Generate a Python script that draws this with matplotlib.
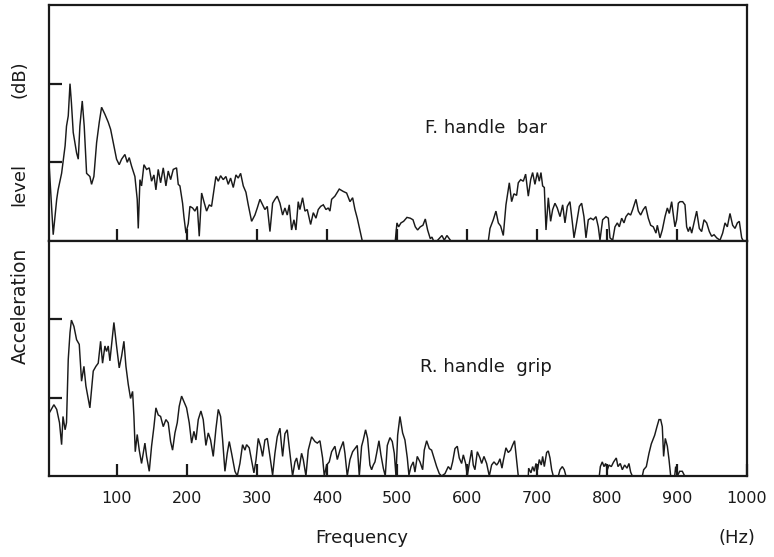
import matplotlib
matplotlib.use("Agg")
import matplotlib.pyplot as plt

# ---- data: F. handle bar (upper panel) ----
freq_front = [3, 9, 14, 16, 21, 26, 28, 30.5, 33, 35, 37.6, 42.4, 44.8, 47.1, 50.5, 53.3, 56.7,
              61.4, 63.8, 67.1, 71, 74.8, 78.1, 82.9, 87.6, 91, 94.8, 99.5, 103.3, 106.7, 111.4,
              114.8, 117.6, 121, 125.7, 129, 130.5, 132.9, 135.2, 138.6, 142.4, 146.2, 149.5,
              152.9, 155.7, 159, 162.4, 166.2, 170, 173.3, 176.7, 180.5, 185.2, 187.6, 190,
              193.8, 195.7, 198.6, 201.9, 204.3, 208.1, 211.4, 214.8, 217.6, 221, 224.3, 228.1,
              231.9, 235.2, 238.6, 241.4, 244.8, 248.1, 251.9, 255.7, 259, 262.4, 266.2, 270,
              273.3, 276.7, 280.5, 284.3, 287.6, 292.4, 297.1, 300.5, 304.3, 308.1, 311.4, 314.8,
              318.6, 322.4, 325.7, 329, 332.9, 336.7, 340, 343.3, 346.2, 349.5, 352.9, 355.7, 359,
              361.4, 365.2, 368.6, 371.9, 376.7, 380.5, 384.3, 387.6, 391, 394.8, 398.6, 401.9,
              404.3, 406.7, 411.4, 417.6, 423.3, 428.1, 432.9, 436.7, 440, 443.3, 447.1, 450.5,
              497.6, 500, 502.4, 505.7, 509.5, 514.3, 519, 522.9, 526.2, 529.5, 533.3, 537.1,
              540.5, 543.8, 547.6, 550, 552.4, 557.1, 564.3, 567.6, 571.4, 577.1, 630.5, 632.9,
              637.6, 641.4, 644.8, 648.1, 651.9, 655.7, 660.5, 663.8, 667.1, 670.9, 673.3, 676.7,
              680.5, 683.8, 687.6, 691, 693.8, 697.1, 700.5, 703.3, 705.7, 708.1, 710.5, 712.9,
              716.2, 719.5, 722.4, 725.7, 729, 732.9, 736.7, 740, 743.3, 747.1, 751, 752.9, 755.7,
              760.5, 763.8, 767.1, 770, 773.3, 776.7, 780.5, 784.3, 787.6, 790, 793.8, 798.6,
              801.9, 804.3, 808.1, 811.4, 814.8, 817.6, 821, 824.3, 827.1, 830.5, 833.8, 836.7,
              841.4, 844.8, 848.1, 851.9, 855.2, 859, 862.4, 866.2, 870, 871.9, 875.7, 879, 882.9,
              886.2, 889, 892.4, 894.8, 897.1, 899.5, 901.9, 904.3, 908.1, 911.4, 913.8, 916.2,
              918.6, 921, 924.3, 928.1, 931.9, 935.2, 938.6, 942.4, 946.2, 949.5, 952.9, 956.7,
              961.4, 965.2, 968.6, 971.9, 975.7, 979.5, 982.9, 986.2, 989, 992.4, 994.8, 1000]
level_front = [10.0, 0.8, 5.3, 6.5, 8.6, 12.1, 14.6, 15.9, 20.0, 17.6, 13.8, 11.2, 10.4, 14.6, 17.8,
               14.6, 8.6, 8.2, 7.2, 8.2, 12.5, 15.1, 17.0, 16.1, 15.1, 14.2, 12.5, 10.4, 9.7, 10.4,
               11.0, 10.0, 10.6, 9.5, 8.2, 5.3, 1.6, 7.8, 7.0, 9.7, 9.1, 9.3, 7.6, 8.4, 6.5, 9.1,
               7.4, 9.3, 7.0, 8.9, 7.8, 9.1, 9.3, 7.2, 7.0, 4.8, 3.1, 1.0, 2.2, 4.4, 4.2, 3.8, 4.4,
               0.6, 6.1, 5.0, 3.8, 4.6, 4.4, 6.5, 8.2, 7.6, 8.3, 7.8, 8.2, 7.2, 8.0, 6.8, 8.4, 8.0,
               8.6, 7.0, 6.2, 4.6, 2.5, 3.3, 4.2, 5.3, 4.6, 4.0, 4.4, 1.2, 4.8, 5.3, 5.7, 4.8, 3.3,
               4.2, 3.3, 4.6, 1.4, 2.7, 1.4, 5.0, 4.0, 5.5, 3.8, 4.0, 2.1, 3.6, 2.9, 4.0, 4.4, 4.6,
               4.0, 4.2, 3.8, 5.3, 5.7, 6.6, 6.3, 6.1, 5.0, 5.5, 4.0, 2.9, 1.4, 0.0,
               0.0, 2.3, 1.8, 2.3, 2.5, 3.0, 2.9, 2.7, 1.8, 1.4, 1.8, 2.0, 2.8, 1.4, 0.3, 0.5, 0.0,
               0.0, 0.7, 0.1, 0.7, 0.0, 0.0, 1.6, 2.7, 3.8, 2.3, 1.9, 0.7, 4.6, 7.4, 5.0, 6.0, 5.8,
               7.4, 7.8, 7.6, 8.5, 5.7, 7.8, 8.7, 7.2, 8.7, 7.6, 8.7, 7.0, 6.8, 1.4, 5.5, 2.5, 4.0,
               4.8, 4.2, 3.1, 4.6, 2.3, 4.4, 5.0, 2.0, 0.4, 1.8, 4.4, 4.8, 3.1, 0.4, 2.7, 2.9, 2.7,
               3.1, 1.8, 0.1, 2.7, 3.1, 2.9, 0.4, 0.1, 1.8, 2.3, 1.8, 2.9, 2.3, 3.1, 3.5, 3.3, 4.0,
               5.3, 3.8, 3.3, 4.0, 4.4, 2.9, 2.0, 1.8, 1.0, 2.0, 0.4, 1.4, 3.1, 4.2, 3.5, 5.0, 3.3,
               1.8, 2.7, 4.8, 5.0, 5.0, 4.6, 1.8, 1.2, 1.8, 1.0, 2.3, 3.8, 1.6, 1.2, 2.7, 2.3, 1.2,
               0.6, 0.8, 0.4, 0.1, 1.0, 2.3, 1.8, 3.5, 2.0, 1.6, 2.3, 2.5, 0.4, 0.0, 0.0]

# ---- data: R. handle grip (lower panel) ----
freq_rear = [3, 5, 10, 14, 18, 21, 23, 26, 28, 30.5, 33, 35, 38.6, 42.4, 46.2, 49.5, 52.9, 55.7,
             61.4, 66.2, 70, 73.3, 76.7, 79.5, 82.9, 85.2, 87.6, 90, 93.3, 95.7, 99.5, 103.3,
             106.7, 110, 112.9, 116.2, 119.5, 122.4, 124.3, 126.2, 129, 131.9, 135.2, 140, 142.4,
             146.2, 149.5, 152.9, 155.7, 159, 162.4, 166.2, 170, 173.3, 176.7, 179.5, 182.9,
             186.2, 189, 192.4, 195.7, 199.5, 203.3, 206.7, 210, 212.9, 216.2, 220, 223.3, 227.1,
             230.5, 233.8, 237.6, 241.4, 244.8, 248.1, 251, 254.3, 257.6, 260.5, 263.8, 268.6,
             271.9, 275.7, 279.5, 282.9, 285.2, 289, 292.4, 295.7, 298.6, 301.9, 305.2, 308.1,
             311.4, 314.8, 318.6, 322.4, 325.7, 329, 332.9, 335, 336.7, 340, 343.3, 346.2, 350.9,
             354.3, 356.7, 360, 363.8, 366.2, 370, 373.3, 378.1, 382.9, 386.2, 390, 393.8, 396.2,
             399.5, 403.3, 406.7, 411.4, 414.8, 418.6, 423.3, 425.7, 429, 432.9, 436.7, 440,
             443.3, 446.2, 449.5, 451.9, 455.2, 458.1, 461.4, 463.8, 466.2, 468.6, 471, 474.3,
             477.1, 480.5, 483.3, 486.2, 490, 493.3, 496.2, 498.6, 501, 504.3, 508.1, 511.4,
             514.8, 517.1, 520, 523.3, 525.7, 529, 532.9, 536.7, 539, 542.4, 546.2, 549.5, 552.9,
             556.7, 560.5, 563.8, 568.6, 573.3, 576.7, 579.5, 582.9, 586.2, 589, 592.4, 594.8,
             598.1, 600.5, 603.3, 606.7, 609, 611.4, 614.8, 618.6, 621, 624.3, 628.1, 631.9,
             635.2, 638.6, 642.4, 644.8, 647.1, 650, 652, 655.7, 659, 662.4, 665, 668, 671, 673.3,
             687.6, 688.1, 691.4, 693.8, 696.2, 698.6, 700.9, 703.3, 706.2, 708.1, 710.5, 713.8,
             716.2, 718.6, 721, 723.3, 730.5, 732.9, 736.2, 739, 741.4, 789, 790.5, 793.3, 795.7,
             798.1, 800.5, 802.9, 806.2, 809.5, 813.3, 815.7, 819, 821.9, 825.2, 828.6, 831.4,
             833.8, 836.2, 850.5, 852.4, 856.2, 860, 863.3, 868.1, 871.4, 874.3, 876.7, 879,
             880.9, 883.3, 886.2, 888.6, 891, 896.7, 898.1, 900.5, 903.8, 907.6, 911, 1000]
level_rear = [8.0, 8.3, 9.1, 8.5, 6.8, 4.0, 7.6, 5.9, 6.8, 14.9, 18.3, 19.9, 19.1, 17.4, 16.8, 12.1,
              14.0, 11.5, 8.7, 13.4, 14.0, 14.4, 17.2, 14.4, 16.6, 15.9, 16.6, 14.7, 17.6, 19.6,
              16.6, 13.8, 15.3, 17.2, 14.0, 11.7, 9.9, 10.8, 7.6, 3.1, 5.3, 3.3, 1.6, 4.2, 2.5,
              0.6, 3.8, 6.3, 8.7, 7.8, 7.6, 6.3, 7.2, 6.8, 4.4, 3.3, 5.5, 6.8, 8.9, 10.2, 9.5, 8.7,
              6.8, 4.2, 5.7, 4.6, 7.2, 8.3, 7.2, 3.9, 5.5, 4.6, 2.5, 6.0, 8.5, 7.6, 4.6, 0.6, 2.9,
              4.4, 2.9, 0.6, 0.0, 1.6, 4.0, 3.3, 4.0, 3.6, 2.0, 0.4, 2.0, 4.8, 3.8, 2.5, 4.6, 4.8,
              2.5, 0.1, 2.9, 5.0, 6.1, 4.0, 2.5, 5.4, 5.9, 3.6, 0.0, 1.8, 2.3, 0.8, 2.9, 2.1, 0.0,
              3.3, 5.0, 4.4, 4.2, 4.5, 2.3, 0.0, 1.4, 1.8, 3.1, 3.8, 2.1, 3.3, 4.4, 2.9, 0.0, 2.1,
              3.1, 3.5, 3.9, 0.0, 3.8, 4.6, 5.9, 4.8, 1.4, 0.8, 1.4, 1.8, 2.9, 4.5, 2.7, 1.0, 0.0,
              3.9, 4.9, 4.4, 2.9, 0.0, 5.2, 7.6, 5.5, 4.6, 2.3, 0.1, 1.2, 1.8, 0.5, 2.5, 1.8, 0.8,
              3.3, 4.5, 3.5, 3.3, 2.3, 1.2, 0.3, 0.0, 0.3, 1.2, 0.8, 1.8, 3.5, 3.8, 2.3, 1.6, 2.7,
              1.6, 0.0, 1.6, 3.3, 1.4, 0.8, 3.1, 2.3, 1.6, 2.5, 1.6, 0.0, 1.4, 1.8, 1.4, 1.7, 2.2,
              1.0, 2.0, 3.6, 3.0, 3.3, 3.9, 4.5, 2.0, 0.0, 0.0, 1.0, 0.4, 1.2, 0.6, 1.6, 0.8, 2.1,
              1.4, 2.5, 1.2, 3.0, 3.2, 2.3, 0.8, 0.0, 0.0, 0.8, 1.2, 0.8, 0.0, 0.0, 1.2, 1.8, 1.2,
              1.6, 0.8, 1.4, 1.2, 1.8, 2.3, 1.2, 1.6, 0.8, 1.4, 1.0, 1.6, 0.5, 0.0, 0.0, 0.8, 1.2,
              2.9, 4.1, 5.2, 6.3, 7.2, 7.2, 6.3, 2.5, 4.8, 3.8, 2.1, 0.0, 0.0, 1.2, 0.0, 0.6, 0.6,
              0.0, 0.0]

x_ticks = [100, 200, 300, 400, 500, 600, 700, 800, 900, 1000]
x_tick_labels = ["100", "200", "300", "400", "500", "600", "700", "800", "900", "1000"]
y_ticks = [10, 20]

ink = "#1a1a1a"
W, H = 774, 557
fig = plt.figure(figsize=(W / 100, H / 100), dpi=100)

left_px, right_px = 49, 747
top_px, mid_px, bot_px = 5, 241, 476

ax_top = fig.add_axes([left_px / W, 1 - mid_px / H, (right_px - left_px) / W, (mid_px - top_px) / H])
ax_bot = fig.add_axes([left_px / W, 1 - bot_px / H, (right_px - left_px) / W, (bot_px - mid_px) / H])

for ax, f, lv in ((ax_top, freq_front, level_front), (ax_bot, freq_rear, level_rear)):
    ax.plot(f, lv, color=ink, lw=1.05, solid_joinstyle="miter")
    ax.set_xlim(3, 1000)
    ax.set_ylim(0, 30)
    ax.set_yticks(y_ticks)
    ax.set_yticklabels([])
    for s in ax.spines.values():
        s.set_linewidth(1.6)
        s.set_color(ink)
    ax.tick_params(axis="both", direction="in", length=9, width=1.6, color=ink)

ax_top.set_xticks(x_ticks[:-1])
ax_top.set_xticklabels([])
ax_bot.set_xticks(x_ticks)
ax_bot.set_xticklabels(x_tick_labels, fontsize=11.5, color=ink)
ax_bot.tick_params(axis="x", pad=11)

fig.text(425 / W, 1 - 128 / H, "F. handle  bar", fontsize=13, color=ink, ha="left", va="center")
fig.text(420 / W, 1 - 367 / H, "R. handle  grip", fontsize=13, color=ink, ha="left", va="center")
fig.text(362 / W, 1 - 538 / H, "Frequency", fontsize=13, color=ink, ha="center", va="center")
fig.text(737 / W, 1 - 538 / H, "(Hz)", fontsize=13, color=ink, ha="center", va="center")

fig.text(19 / W, 1 - 79 / H, "(dB)", fontsize=13, color=ink, rotation=90, ha="center", va="center")
fig.text(19 / W, 1 - 184 / H, "level", fontsize=13, color=ink, rotation=90, ha="center", va="center")
fig.text(20 / W, 1 - 306 / H, "Acceleration", fontsize=13.5, color=ink, rotation=90, ha="center", va="center")

fig.savefig("out.png", dpi=100, facecolor="white")
